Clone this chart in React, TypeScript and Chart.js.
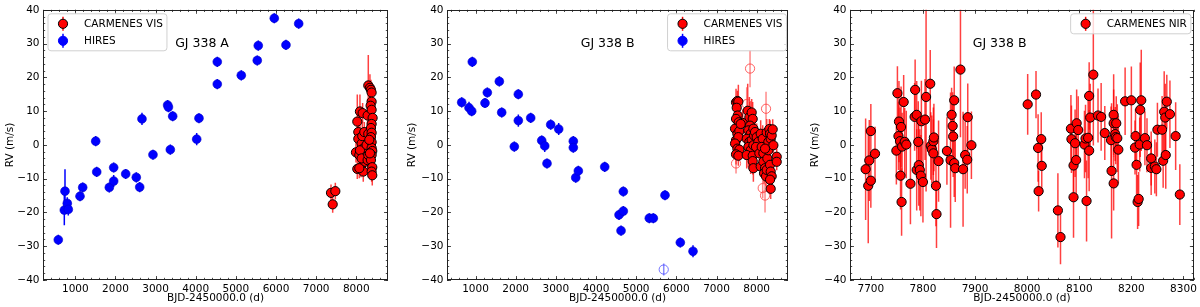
import React, { useEffect, useRef } from 'react';
import { Chart, registerables } from 'chart.js';

Chart.register(...registerables);

const FONT = "'DejaVu Sans', 'Liberation Sans', sans-serif";

// ---- tick labels ----
const xTicksWide = [1000, 2000, 3000, 4000, 5000, 6000, 7000, 8000];
const xTicksNir = [7700, 7800, 7900, 8000, 8100, 8200, 8300];
const yTicks = [-40, -30, -20, -10, 0, 10, 20, 30, 40];

// ---- data: [BJD-2450000, RV (m/s), error (m/s)] ----
const hiresA = [
  [576, -28.1, 1.5], [743, -13.7, 6.5], [726, -19.3, 4.5], [800, -17.3, 1.8], [825, -19.1, 1.8],
  [1117, -15.2, 1.5], [1184, -12.6, 1.5], [1508, 1.1, 1.5], [1533, -8.0, 1.5], [1847, -12.6, 1.5],
  [1956, -6.7, 1.5], [1956, -10.7, 1.8], [2255, -8.6, 1.5], [2519, -9.6, 1.5], [2604, -12.5, 1.5],
  [2661, 7.7, 1.8], [2935, -2.9, 1.5], [3300, 11.8, 1.5], [3320, 11.2, 1.5], [3367, -1.4, 1.5],
  [3426, 8.5, 1.5], [4024, 1.7, 1.8], [4081, 7.9, 1.5], [4537, 24.6, 1.5], [4537, 18.0, 1.5],
  [5135, 20.6, 1.5], [5533, 25.0, 1.5], [5558, 29.4, 1.5], [5957, 37.5, 1.5], [6248, 29.6, 1.5],
  [6565, 35.9, 1.5],
];

const visA = [
  [7370, -14.2, 2.5], [7412, -17.6, 2.5], [7478, -13.7, 2.5],
  [7992, -2.2, 3], [8025, 6.9, 8], [8025, -7.1, 3], [8050, 3.8, 6], [8050, 1.8, 4], [8075, -3.0, 3],
  [8091, 9.9, 5], [8116, -6.6, 3], [8133, 0.4, 3.5], [8149, 2.6, 4], [8158, 9.4, 3], [8174, -7.9, 3],
  [8174, -1.1, 3], [8191, -3.5, 4], [8199, 3.8, 3], [8216, -5.0, 3], [8091, -1.6, 4], [8133, -4.0, 3],
  [8075, -6.9, 3], [8257, 0.0, 4], [8282, -4.5, 3], [8282, 8.7, 5], [8299, 3.3, 3], [8299, -3.0, 3],
  [8299, 17.6, 9], [8340, 16.9, 4], [8365, 16.3, 3], [8382, 15.5, 3], [8382, 12.8, 3], [8357, 11.6, 3],
  [8382, 10.4, 3], [8407, 8.0, 3], [8382, 6.2, 3], [8365, 5.0, 3], [8382, 3.6, 3], [8365, 2.3, 3],
  [8382, 0.8, 3], [8382, -0.9, 3], [8398, -1.8, 3], [8382, -3.0, 3], [8365, -4.5, 3], [8398, -6.6, 3],
  [8382, -7.9, 3], [8398, -9.0, 3], [8340, -2.5, 4], [8324, 1.5, 4],
];

const hiresB = [
  [656, 12.6, 1.5], [838, 11.0, 1.8], [905, 10.0, 1.5], [920, 24.6, 1.5], [1236, 12.4, 1.5],
  [1294, 15.5, 1.5], [1593, 18.8, 1.5], [1652, 9.6, 1.5], [1966, -0.5, 1.5], [2066, 7.2, 1.8],
  [2066, 15.0, 1.5], [2374, 8.0, 1.5], [2648, 1.3, 1.5], [2723, -0.3, 1.8], [2780, -5.5, 1.5],
  [2872, 6.0, 1.5], [3071, 4.7, 1.8], [3435, 1.1, 1.5], [3435, -0.8, 1.5], [3495, -9.7, 1.5],
  [3560, -7.7, 1.5], [4217, -6.5, 1.5], [4573, -20.7, 1.5], [4623, -25.4, 1.5], [4680, -19.6, 1.5],
  [4680, -13.8, 1.5], [5327, -21.7, 1.5], [5427, -21.7, 1.5], [5718, -14.9, 1.5], [6099, -28.9, 1.5],
  [6415, -31.5, 1.8],
];
const hiresBOutlier = [[5686, -36.9, 1.8]];

const visB = [
  [7486, 12.6, 4], [7519, 13.0, 3], [7544, 12.8, 5], [7503, 11.0, 3], [7528, 8.7, 3], [7486, 7.7, 3],
  [7553, 6.7, 4], [7461, 4.8, 3], [7519, 3.3, 3], [7569, 4.1, 4], [7486, 1.4, 3], [7544, 2.3, 3],
  [7461, 0.4, 3], [7519, -1.1, 3], [7569, -1.4, 3], [7486, -2.8, 3], [7544, -3.2, 3], [7652, 6.5, 4],
  [7602, 6.2, 3],
  [7777, 10.1, 8], [7818, 8.2, 6], [7876, 9.6, 4], [7901, 7.7, 5], [7835, 5.7, 7], [7793, 4.3, 5],
  [7851, 3.3, 6], [7918, 4.8, 4], [7752, 1.8, 5], [7818, 0.9, 8], [7876, 1.4, 5], [7934, 2.8, 4],
  [7793, -0.6, 6], [7851, -1.6, 7], [7918, -0.1, 4], [7752, -3.0, 4], [7901, -3.2, 4], [7901, -4.8, 4],
  [7918, -6.9, 4], [7959, 3.8, 4], [8001, 2.3, 4], [8042, 0.9, 4], [7984, -0.6, 4], [8067, -2.5, 4],
  [8100, 3.3, 4], [8150, 1.8, 4], [8125, -0.6, 4], [8167, -2.5, 4], [8100, -6.4, 3], [8167, -5.0, 3],
  [8208, -6.9, 4], [8184, -8.4, 3], [8233, -9.3, 3], [8250, -7.4, 3], [8266, -4.0, 3], [8291, -1.6, 4],
  [8291, 0.9, 4], [8250, 3.7, 4], [8316, 4.7, 3], [8333, 3.3, 4], [8349, 1.8, 3], [8333, -5.9, 3],
  [8349, -7.9, 3], [8374, -9.3, 3], [8333, -10.3, 3], [8349, -13.0, 3], [8374, 2.8, 3], [8399, 4.6, 3],
  [8416, -0.1, 3], [8208, -1.1, 3], [8499, -3.5, 2.5], [8499, -5.0, 2.5],
];
const visBOutliers = [
  [7486, -5.5, 3], [7752, 12.1, 5], [7835, 22.6, 5.5], [8233, 10.7, 5], [8150, -12.8, 3], [8208, -15.0, 5],
];

const nirB = [
  [7690, -7.2, 15], [7695, -12.1, 17], [7697, -4.6, 12], [7700, 4.1, 8], [7700, -10.6, 8], [7708, -2.6, 8],
  [7749, -1.7, 10], [7751, 15.3, 8], [7753, 2.6, 10], [7754, 6.9, 12], [7756, 1.1, 10], [7757, -9.1, 10],
  [7758, 5.3, 12], [7759, -16.9, 10], [7760, -0.5, 10], [7763, 12.7, 8], [7765, 0.9, 10], [7768, 0.1, 10],
  [7776, -11.5, 12], [7785, 16.3, 9], [7784, 8.3, 10], [7788, 8.9, 10], [7788, -7.4, 12], [7791, 0.9, 12],
  [7792, -6.0, 12], [7794, -7.4, 12], [7796, -9.1, 12], [7797, 7.0, 12], [7800, -11.0, 12], [7804, 7.5, 12],
  [7806, 14.2, 28], [7814, 18.1, 10], [7815, -0.3, 10], [7817, -1.3, 10], [7820, 1.1, 10], [7820, -2.5, 10],
  [7821, 2.2, 10], [7825, -12.1, 12], [7826, -20.5, 10], [7830, -4.8, 12], [7846, -1.8, 10], [7853, -4.5, 20],
  [7855, 8.9, 8], [7857, 5.6, 10], [7858, 2.5, 12], [7860, 13.2, 10], [7860, -5.4, 10], [7862, -6.9, 10],
  [7872, 22.3, 20], [7877, -7.2, 17], [7881, -3.0, 10], [7885, -4.4, 10], [7886, 8.2, 10], [7893, -0.1, 10],
  [8001, 12.0, 9], [8017, 14.9, 7], [8021, -0.9, 10], [8022, -13.7, 6], [8027, 1.7, 8], [8028, -6.2, 8],
  [8059, -19.4, 11], [8064, -27.3, 8], [8084, 4.8, 10], [8085, 1.7, 10], [8089, -6.1, 8], [8089, -15.5, 12],
  [8092, 0.5, 10], [8094, -4.5, 12], [8095, 6.4, 10], [8098, 4.4, 10], [8110, 0.1, 10], [8112, 1.9, 10],
  [8114, -16.6, 12], [8117, 2.1, 12], [8119, -1.7, 12], [8119, 14.5, 10], [8121, 8.1, 10], [8127, 20.8, 21],
  [8136, 8.7, 8], [8142, 8.3, 10], [8149, 3.5, 8], [8161, 1.4, 10], [8162, -7.7, 20], [8166, 8.9, 12],
  [8166, 6.4, 10], [8166, -11.4, 8], [8169, 3.2, 8], [8170, 2.3, 8], [8171, 6.4, 8], [8173, 2.0, 10],
  [8175, -1.4, 10], [8188, 12.9, 10], [8200, 13.2, 10], [8207, -0.8, 8], [8208, 2.6, 8], [8210, -5.9, 10],
  [8212, -16.9, 8], [8214, -16.0, 8], [8216, 0.1, 8], [8217, 10.4, 14], [8219, 13.2, 15], [8226, 2.0, 8],
  [8230, -0.1, 8], [8238, -4.0, 8], [8238, -6.8, 8], [8245, -6.4, 8], [8248, -7.2, 8], [8250, 4.5, 8],
  [8259, 4.5, 10], [8261, -4.7, 8], [8263, 9.8, 12], [8265, 8.1, 10], [8266, -3.0, 10], [8268, 12.8, 8],
  [8274, 9.1, 10], [8285, 2.6, 10], [8293, -14.7, 9],
];

// ---- styles ----
const RED = '#ff0000';
const BLUE = '#0000ff';

function series(points: number[][], kind: string) {
  const base: any = {
    data: points.map((p) => ({ x: p[0], y: p[1] })),
    yErr: points.map((p) => p[2]),
    pointRadius: 4.6,
    pointHoverRadius: 4.6,
    showLine: false,
  };
  if (kind === 'red') {
    return { ...base, backgroundColor: RED, borderColor: '#000', borderWidth: 1, errColor: 'rgba(255,0,0,0.75)' };
  }
  if (kind === 'redOpen') {
    return { ...base, backgroundColor: 'rgba(0,0,0,0)', borderColor: 'rgba(255,60,60,0.8)', borderWidth: 1, errColor: 'rgba(255,60,60,0.6)' };
  }
  if (kind === 'blueOpen') {
    return { ...base, backgroundColor: 'rgba(0,0,0,0)', borderColor: 'rgba(60,60,255,0.7)', borderWidth: 1, errColor: 'rgba(60,60,255,0.6)' };
  }
  return { ...base, pointRadius: 4.4, backgroundColor: BLUE, borderColor: '#0000c8', borderWidth: 0.6, errColor: BLUE };
}

const panels = [
  {
    key: 'a', left: 0, yAxisW: 43, padRight: 12, yTitlePad: 3.7,
    xMin: 195, xMax: 8790, xTicks: xTicksWide, minor: 200,
    title: 'GJ 338 A', titleFx: 0.461, titleFy: 0.124,
    legendSide: 'left', legendOffset: 5,
    legendItems: [{ label: 'CARMENES VIS', fill: RED, edge: '#000', bar: RED }, { label: 'HIRES', fill: BLUE, edge: BLUE, bar: BLUE }],
    datasets: () => [series(visA, 'red'), series(hiresA, 'blue')],
  },
  {
    key: 'b', left: 400, yAxisW: 47, padRight: 12, yTitlePad: 5.7,
    xMin: 290, xMax: 8780, xTicks: xTicksWide, minor: 200,
    title: 'GJ 338 B', titleFx: 0.471, titleFy: 0.124,
    legendSide: 'right', legendOffset: 1.5,
    legendItems: [{ label: 'CARMENES VIS', fill: RED, edge: '#000', bar: RED }, { label: 'HIRES', fill: BLUE, edge: BLUE, bar: BLUE }],
    datasets: () => [series(visB, 'red'), series(visBOutliers, 'redOpen'), series(hiresB, 'blue'), series(hiresBOutlier, 'blueOpen')],
  },
  {
    key: 'c', left: 800, yAxisW: 50, padRight: 5, yTitlePad: 8.7,
    xMin: 7660, xMax: 8320, xTicks: xTicksNir, minor: 20,
    title: 'GJ 338 B', titleFx: 0.435, titleFy: 0.124,
    legendSide: 'right', legendOffset: 3,
    legendItems: [{ label: 'CARMENES NIR', fill: RED, edge: '#000', bar: RED }],
    datasets: () => [series(nirB, 'red')],
  },
];

function makePlugin(spec: any) {
  return {
    id: 'decor_' + spec.key,
    beforeDatasetsDraw(chart: any) {
      const { ctx, chartArea: ca, scales } = chart;
      const x = scales.x;
      const y = scales.y;
      ctx.save();
      ctx.beginPath();
      ctx.rect(ca.left, ca.top, ca.right - ca.left, ca.bottom - ca.top);
      ctx.clip();
      ctx.lineWidth = 1.5;
      chart.data.datasets.forEach((d: any) => {
        if (!d.yErr) return;
        ctx.strokeStyle = d.errColor;
        d.data.forEach((p: any, i: number) => {
          const px = x.getPixelForValue(p.x);
          ctx.beginPath();
          ctx.moveTo(px, y.getPixelForValue(p.y - d.yErr[i]));
          ctx.lineTo(px, y.getPixelForValue(p.y + d.yErr[i]));
          ctx.stroke();
        });
      });
      ctx.restore();
    },
    afterDraw(chart: any) {
      const { ctx, chartArea: ca, scales } = chart;
      const x = scales.x;
      const y = scales.y;
      ctx.save();
      // ticks inward on all four sides
      ctx.strokeStyle = '#222';
      ctx.lineWidth = 0.8;
      const xTick = (v: number, len: number) => {
        const px = Math.round(x.getPixelForValue(v)) + 0.5;
        ctx.beginPath();
        ctx.moveTo(px, ca.bottom); ctx.lineTo(px, ca.bottom - len);
        ctx.moveTo(px, ca.top); ctx.lineTo(px, ca.top + len);
        ctx.stroke();
      };
      const yTick = (v: number, len: number) => {
        const py = Math.round(y.getPixelForValue(v)) + 0.5;
        ctx.beginPath();
        ctx.moveTo(ca.left, py); ctx.lineTo(ca.left + len, py);
        ctx.moveTo(ca.right, py); ctx.lineTo(ca.right - len, py);
        ctx.stroke();
      };
      for (let v = Math.ceil(spec.xMin / spec.minor) * spec.minor; v <= spec.xMax; v += spec.minor) xTick(v, 2.2);
      spec.xTicks.forEach((v: number) => xTick(v, 4));
      for (let v = -40; v <= 40; v += 2) yTick(v, 2.2);
      yTicks.forEach((v) => yTick(v, 4));
      // frame
      ctx.strokeStyle = '#222';
      ctx.lineWidth = 1;
      ctx.strokeRect(Math.round(ca.left) + 0.5, Math.round(ca.top) + 0.5, Math.round(ca.right - ca.left) - 1, Math.round(ca.bottom - ca.top) - 1);
      // panel title
      ctx.fillStyle = '#000';
      ctx.font = `12.5px ${FONT}`;
      ctx.textAlign = 'center';
      ctx.textBaseline = 'middle';
      ctx.fillText(spec.title, ca.left + spec.titleFx * (ca.right - ca.left), ca.top + spec.titleFy * (ca.bottom - ca.top));
      // legend
      ctx.font = `10.5px ${FONT}`;
      const tw = Math.max(...spec.legendItems.map((it: any) => ctx.measureText(it.label).width));
      const bw = 36 + tw + 4;
      const bh = spec.legendItems.length === 2 ? 37 : 20;
      const bx = spec.legendSide === 'left' ? ca.left + spec.legendOffset : ca.right - spec.legendOffset - bw;
      const by = ca.top + 4;
      ctx.beginPath();
      const r = 3;
      ctx.moveTo(bx + r, by);
      ctx.lineTo(bx + bw - r, by); ctx.quadraticCurveTo(bx + bw, by, bx + bw, by + r);
      ctx.lineTo(bx + bw, by + bh - r); ctx.quadraticCurveTo(bx + bw, by + bh, bx + bw - r, by + bh);
      ctx.lineTo(bx + r, by + bh); ctx.quadraticCurveTo(bx, by + bh, bx, by + bh - r);
      ctx.lineTo(bx, by + r); ctx.quadraticCurveTo(bx, by, bx + r, by);
      ctx.closePath();
      ctx.fillStyle = 'rgba(255,255,255,0.8)';
      ctx.fill();
      ctx.strokeStyle = '#d0d0d0';
      ctx.lineWidth = 1;
      ctx.stroke();
      spec.legendItems.forEach((it: any, i: number) => {
        const cy = by + 10 + i * 17;
        const mx = bx + 15;
        ctx.strokeStyle = it.bar;
        ctx.lineWidth = 1.5;
        ctx.beginPath();
        ctx.moveTo(mx, cy - 7); ctx.lineTo(mx, cy + 7);
        ctx.stroke();
        ctx.beginPath();
        ctx.arc(mx, cy, 4.6, 0, Math.PI * 2);
        ctx.fillStyle = it.fill;
        ctx.fill();
        ctx.strokeStyle = it.edge;
        ctx.lineWidth = 1;
        ctx.stroke();
        ctx.fillStyle = '#000';
        ctx.textAlign = 'left';
        ctx.textBaseline = 'middle';
        ctx.fillText(it.label, bx + 36, cy);
      });
      ctx.restore();
    },
  };
}

const tickFont = { family: FONT, size: 10.5 };
const minus = (v: any) => String(v).replace('-', '\u2212');

function buildConfig(spec: any): any {
  return {
    type: 'scatter',
    data: { datasets: spec.datasets() },
    options: {
      animation: false,
      responsive: false,
      devicePixelRatio: 1,
      events: [],
      layout: { padding: { left: 0, right: spec.padRight, top: 6, bottom: 0 } },
      plugins: { legend: { display: false }, tooltip: { enabled: false } },
      scales: {
        x: {
          type: 'linear',
          min: spec.xMin,
          max: spec.xMax,
          afterBuildTicks: (s: any) => { s.ticks = spec.xTicks.map((v: number) => ({ value: v })); },
          afterFit: (s: any) => { s.height = 27; },
          grid: { display: false, drawTicks: false },
          border: { display: false },
          ticks: { font: tickFont, color: '#000', padding: 3, maxRotation: 0, minRotation: 0, autoSkip: false, callback: (v: any) => minus(v) },
          title: { display: true, text: 'BJD-2450000.0 (d)', font: tickFont, color: '#000', padding: { top: 0, bottom: 2 } },
        },
        y: {
          type: 'linear',
          min: -40,
          max: 40,
          afterBuildTicks: (s: any) => { s.ticks = yTicks.map((v) => ({ value: v })); },
          afterFit: (s: any) => { s.width = spec.yAxisW; },
          grid: { display: false, drawTicks: false },
          border: { display: false },
          ticks: { font: tickFont, color: '#000', padding: 3.5, autoSkip: false, callback: (v: any) => minus(v) },
          title: { display: true, text: 'RV (m/s)', font: tickFont, color: '#000', padding: { top: spec.yTitlePad, bottom: 0 } },
        },
      },
    },
    plugins: [makePlugin(spec)],
  };
}

function Panel({ spec }: { spec: any }) {
  const ref = useRef<HTMLCanvasElement>(null);
  useEffect(() => {
    const chart = new Chart(ref.current as HTMLCanvasElement, buildConfig(spec));
    return () => chart.destroy();
  }, [spec]);
  return (
    <canvas
      ref={ref}
      width={400}
      height={307}
      style={{ position: 'absolute', left: spec.left, top: 0, width: 400, height: 307 }}
    />
  );
}

export default function App() {
  return (
    <div style={{ position: 'absolute', left: 0, top: 0, width: 1200, height: 307, background: '#fff' }}>
      {panels.map((p) => (
        <Panel key={p.key} spec={p} />
      ))}
    </div>
  );
}
